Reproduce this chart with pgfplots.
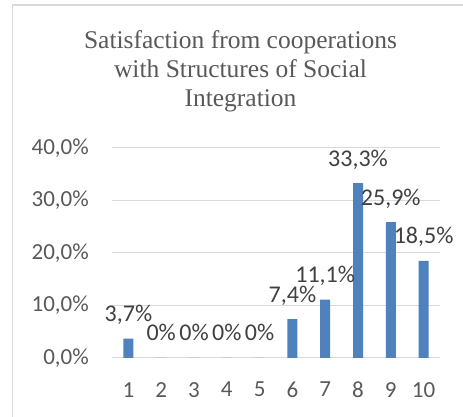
\documentclass[border=0pt]{standalone}
\usepackage{pgfplots}
\pgfplotsset{compat=1.18}
\usepackage{fontspec}
\newfontfamily\carlito{Carlito}
\newfontfamily\titlefont{Liberation Serif}
\definecolor{barblue}{HTML}{4F81BD}
\definecolor{ticktext}{HTML}{595959}
\definecolor{labeltext}{HTML}{404040}
\definecolor{gridc}{HTML}{D9D9D9}
\begin{document}
\begin{tikzpicture}[x=1pt,y=1pt]
\path[use as bounding box] (0,0) rectangle (463,417);
\draw[color=gridc, line width=1.5pt] (12.5,0) -- (12.5,412) -- (463,412);
\begin{scope}[every node/.style={text=ticktext, font=\titlefont\fontsize{25.5}{29}\selectfont, inner sep=0pt, anchor=base}]
\node at (240.5,368.7) {Satisfaction from cooperations};
\node at (240.5,339.7) {with Structures of Social};
\node at (240.5,310.3) {Integration};
\end{scope}
\begin{axis}[
  at={(112pt,59pt)}, anchor=south west,
  width=328pt, height=210pt, scale only axis,
  xmin=0.5, xmax=10.5, ymin=0, ymax=0.4,
  ybar, bar width=10pt,
  axis line style={draw=none},
  major tick length=0pt,
  ymajorgrids, major grid style={gridc, line width=1pt},
  xtick={1,...,10},
  xticklabels={1,2,3,4,5,6,7,8,9,10},
  ytick={0,0.1,0.2,0.3,0.4},
  yticklabels={{0,0\%},{10,0\%},{20,0\%},{30,0\%},{40,0\%}},
  xticklabel style={font=\carlito\fontsize{23}{26}\selectfont, text=ticktext, anchor=north, inner sep=0pt, yshift=-24pt},
  yticklabel style={font=\carlito\fontsize{23}{26}\selectfont, text=ticktext, anchor=east, inner sep=0pt, xshift=-23pt},
  point meta=explicit symbolic,
  nodes near coords,
  every node near coord/.append style={font=\carlito\fontsize{24}{26}\selectfont, text=labeltext, anchor=base, inner sep=0pt, yshift=17pt},
  clip=false,
]
\addplot[fill=barblue, draw=none] table[meta=label] {
x y label
1 0.037 {3,7\%}
2 0 {0\%}
3 0 {0\%}
4 0 {0\%}
5 0 {0\%}
6 0.074 {7,4\%}
7 0.111 {11,1\%}
8 0.333 {33,3\%}
9 0.259 {25,9\%}
10 0.185 {18,5\%}
};
\end{axis}
\end{tikzpicture}
\end{document}
